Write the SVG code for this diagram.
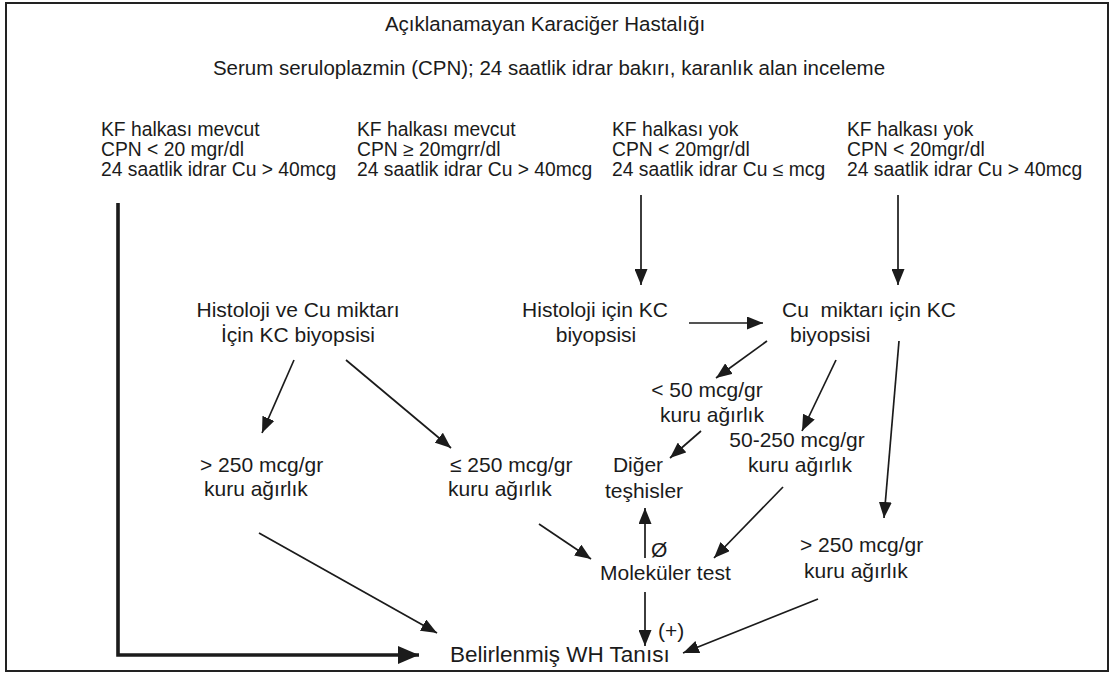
<svg xmlns="http://www.w3.org/2000/svg" width="1114" height="679" viewBox="0 0 1114 679">
<defs>
<style>
text{font-family:"Liberation Sans",Arial,Helvetica,sans-serif;fill:#1b1b1b}
.h{font-size:20.5px}
.c{font-size:19.3px}
.m{font-size:21px}
.b{font-size:22.5px}
.ln{stroke:#1b1b1b;stroke-width:1.7;fill:none;marker-end:url(#ah)}
.thick{stroke:#1b1b1b;stroke-width:3.6;fill:none;marker-end:url(#ahb)}
</style>
<marker id="ah" markerUnits="userSpaceOnUse" markerWidth="17" markerHeight="13" refX="16" refY="6.5" orient="auto">
<path d="M0,0 L16,6.5 L0,13 z" fill="#1b1b1b"/>
</marker>
<marker id="ahb" markerUnits="userSpaceOnUse" markerWidth="22" markerHeight="18" refX="21" refY="9" orient="auto">
<path d="M0,0 L21,9 L0,18 z" fill="#1b1b1b"/>
</marker>
</defs>
<rect x="0" y="0" width="1114" height="679" fill="#ffffff"/>
<rect x="6" y="3" width="1102" height="668" fill="none" stroke="#222" stroke-width="2"/>

<g id="title"><text class="h" x="545" y="31" text-anchor="middle">Açıklanamayan Karaciğer Hastalığı</text></g>
<g id="tests"><text class="h" x="549" y="75" text-anchor="middle">Serum seruloplazmin (CPN); 24 saatlik idrar bakırı, karanlık alan inceleme</text></g>

<g id="col1">
<text class="c" x="101" y="136">KF halkası mevcut</text>
<text class="c" x="101" y="156">CPN &lt; 20 mgr/dl</text>
<text class="c" x="101" y="176">24 saatlik idrar Cu &gt; 40mcg</text>
</g>
<g id="col2">
<text class="c" x="357" y="136">KF halkası mevcut</text>
<text class="c" x="357" y="156">CPN ≥ 20mgrr/dl</text>
<text class="c" x="357" y="176">24 saatlik idrar Cu &gt; 40mcg</text>
</g>
<g id="col3">
<text class="c" x="612" y="136">KF halkası yok</text>
<text class="c" x="612" y="156">CPN &lt; 20mgr/dl</text>
<text class="c" x="612" y="176">24 saatlik idrar Cu ≤ mcg</text>
</g>
<g id="col4">
<text class="c" x="847" y="136">KF halkası yok</text>
<text class="c" x="847" y="156">CPN &lt; 20mgr/dl</text>
<text class="c" x="847" y="176">24 saatlik idrar Cu &gt; 40mcg</text>
</g>

<g id="biopsy-hist-cu">
<text class="m" x="298" y="317" text-anchor="middle">Histoloji ve Cu miktarı</text>
<text class="m" x="298" y="342" text-anchor="middle">İçin KC biyopsisi</text>
</g>
<g id="biopsy-hist">
<text class="m" x="595" y="317" text-anchor="middle">Histoloji için KC</text>
<text class="m" x="596" y="342" text-anchor="middle">biyopsisi</text>
</g>
<g id="biopsy-cu">
<text class="m" x="782" y="317">Cu&#160; miktarı için KC</text>
<text class="m" x="790" y="342">biyopsisi</text>
</g>
<g id="lt50">
<text class="m" x="707" y="397" text-anchor="middle">&lt; 50 mcg/gr</text>
<text class="m" x="712" y="422" text-anchor="middle">kuru ağırlık</text>
</g>
<g id="r50-250">
<text class="m" x="797" y="447" text-anchor="middle">50-250 mcg/gr</text>
<text class="m" x="800" y="472" text-anchor="middle">kuru ağırlık</text>
</g>
<g id="diger">
<text class="m" x="638" y="472" text-anchor="middle">Diğer</text>
<text class="m" x="644" y="498" text-anchor="middle">teşhisler</text>
</g>
<g id="gt250-left">
<text class="m" x="200" y="472">&gt; 250 mcg/gr</text>
<text class="m" x="204" y="496">kuru ağırlık</text>
</g>
<g id="le250">
<text class="m" x="450" y="472">≤ 250 mcg/gr</text>
<text class="m" x="448" y="496">kuru ağırlık</text>
</g>
<g id="molecular">
<text class="m" x="651" y="557">Ø</text>
<text class="m" x="600" y="580">Moleküler test</text>
<text class="m" x="658" y="638">(+)</text>
</g>
<g id="gt250-right">
<text class="m" x="800" y="552">&gt; 250 mcg/gr</text>
<text class="m" x="804" y="578">kuru ağırlık</text>
</g>
<g id="diagnosis">
<text class="b" x="450" y="662">Belirlenmiş WH Tanısı</text>
</g>

<g id="connectors">
<path class="thick" d="M118,203 V655 H419"/>
<line class="ln" x1="641" y1="195" x2="641" y2="285"/>
<line class="ln" x1="898" y1="195" x2="898" y2="285"/>
<line class="ln" x1="294" y1="360" x2="262" y2="433"/>
<line class="ln" x1="346" y1="360" x2="451" y2="448"/>
<line class="ln" x1="689" y1="323" x2="763" y2="323"/>
<line class="ln" x1="767" y1="341" x2="716" y2="378"/>
<line class="ln" x1="836" y1="360" x2="802" y2="431"/>
<line class="ln" x1="899" y1="341" x2="884" y2="518"/>
<line class="ln" x1="701" y1="431" x2="670" y2="458"/>
<line class="ln" x1="259" y1="533" x2="437" y2="633"/>
<line class="ln" x1="539" y1="524" x2="591" y2="559"/>
<line class="ln" x1="645" y1="558" x2="645" y2="508"/>
<line class="ln" x1="783" y1="487" x2="714" y2="558"/>
<line class="ln" x1="645" y1="592" x2="645" y2="646"/>
<line class="ln" x1="818" y1="599" x2="683" y2="653"/>
</g>
</svg>
